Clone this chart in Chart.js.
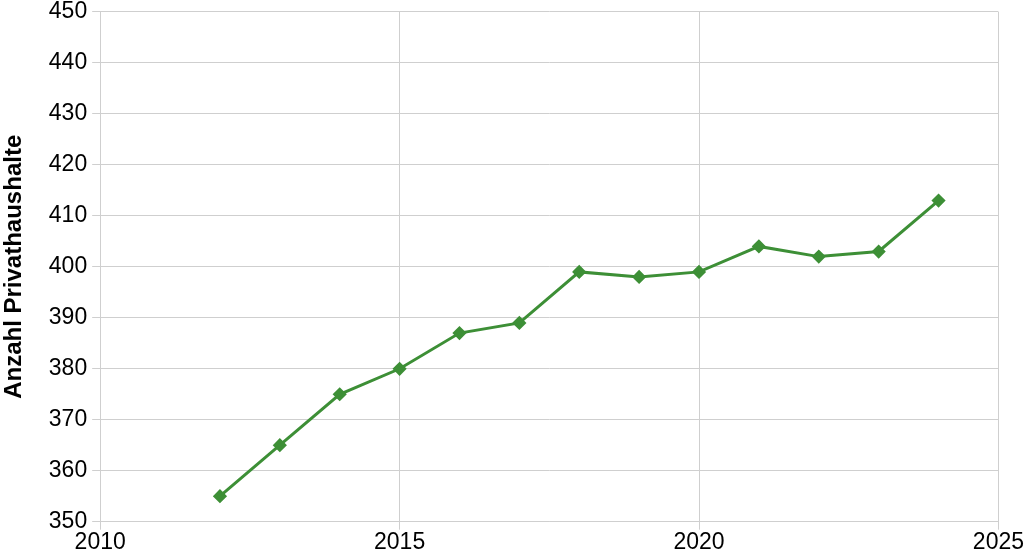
<!DOCTYPE html>
<html>
<head>
<meta charset="utf-8">
<script src="https://cdn.jsdelivr.net/npm/chart.js@4/dist/chart.umd.min.js"></script>
<style>
  html, body { margin: 0; padding: 0; background: #fff; }
  #wrap { width: 1024px; height: 555px; }
</style>
</head>
<body>
<div id="wrap"><canvas id="chart"></canvas></div>
<script>
// Daten
const years = [2012, 2013, 2014, 2015, 2016, 2017, 2018, 2019, 2020, 2021, 2022, 2023, 2024];
const households = [355, 365, 375, 380, 387, 389, 399, 398, 399, 404, 402, 403, 413];
const xTicks = [2010, 2015, 2020, 2025];
const yMin = 350, yMax = 450, yStep = 10;

const green = '#3d8f36';
const gridColor = '#cfcfcf';

const ctx = document.getElementById('chart').getContext('2d');
new Chart(ctx, {
    type: 'line',
    data: {
        datasets: [{
            label: 'Anzahl Privathaushalte',
            data: years.map((y, i) => ({x: y, y: households[i]})),
            borderColor: green,
            backgroundColor: green,
            borderWidth: 3,
            pointStyle: 'rectRot',
            pointRadius: 5,
            pointHoverRadius: 5,
            tension: 0
        }]
    },
    options: {
        responsive: true,
        maintainAspectRatio: false,
        animation: false,
        layout: { padding: { top: 0, right: 1, left: 0, bottom: 0 } },
        plugins: {
            legend: { display: false },
            tooltip: { enabled: false }
        },
        scales: {
            x: {
                type: 'linear',
                min: xTicks[0],
                max: xTicks[xTicks.length - 1],
                afterBuildTicks: axis => { axis.ticks = xTicks.map(v => ({value: v})); },
                ticks: {
                    color: '#000',
                    font: { family: 'Liberation Sans', size: 23, lineHeight: 1.1 },
                    padding: 0,
                    maxRotation: 0,
                    callback: v => String(v)
                },
                grid: { color: gridColor, tickLength: 8, tickColor: gridColor },
                border: { color: gridColor }
            },
            y: {
                min: yMin,
                max: yMax,
                ticks: {
                    stepSize: yStep,
                    color: '#000',
                    font: { family: 'Liberation Sans', size: 23, lineHeight: 0.6 },
                    padding: 5
                },
                grid: { color: gridColor, tickLength: 8, tickColor: gridColor },
                border: { color: gridColor },
                title: {
                    display: true,
                    text: 'Anzahl Privathaushalte',
                    color: '#000',
                    font: { family: 'Liberation Sans', size: 24, weight: 'bold' },
                    padding: { top: 0, bottom: 15 }
                }
            }
        }
    }
});
</script>
</body>
</html>
